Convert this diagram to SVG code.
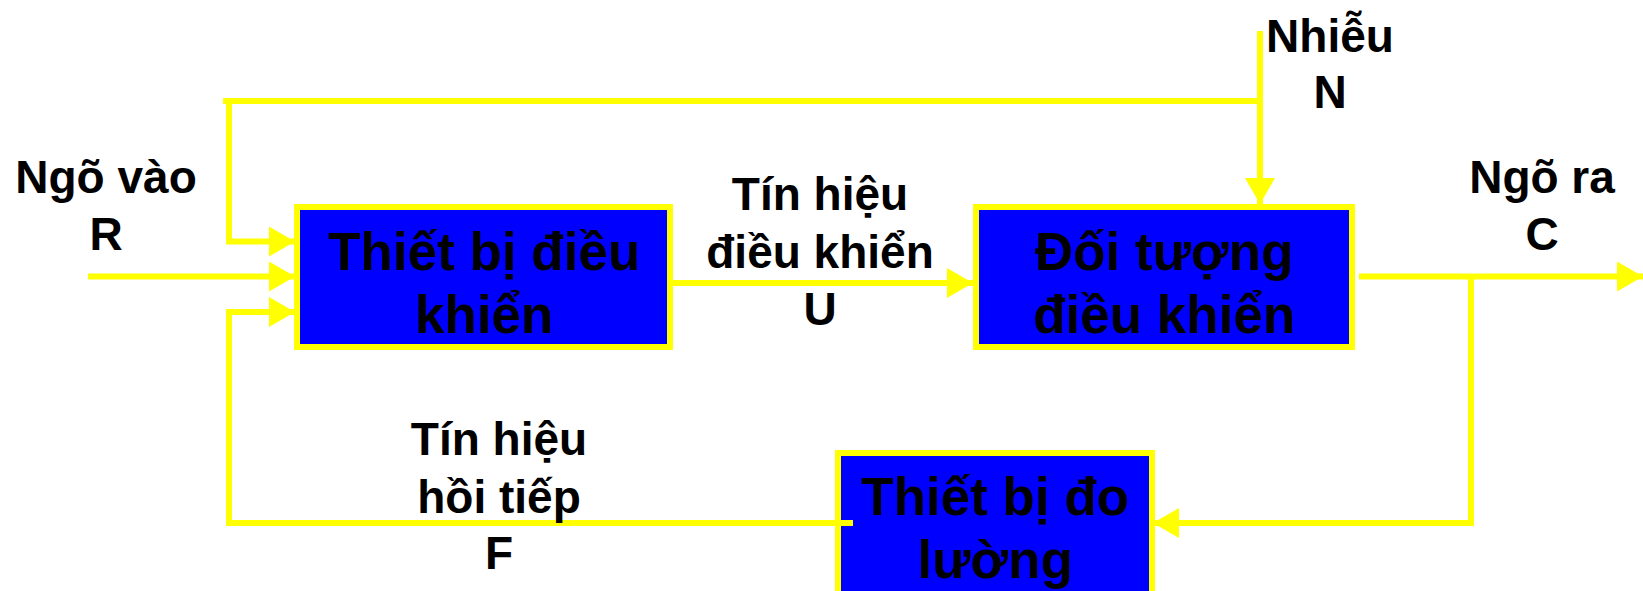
<svg xmlns="http://www.w3.org/2000/svg" width="1643" height="591" viewBox="0 0 1643 591">
  <style>
    .box { fill: #0000FF; stroke: #FFFF00; stroke-width: 6; }
    .wire { fill: none; stroke: #FFFF00; stroke-width: 6; }
    .lbl { font-family: "Liberation Sans", Arial, sans-serif; font-weight: bold; font-size: 46px; fill: #000; text-anchor: middle; }
    .blk { font-family: "Liberation Sans", Arial, sans-serif; font-weight: bold; font-size: 53px; fill: #000; text-anchor: middle; }
  </style>
  <defs>
    <marker id="arrow" viewBox="0 0 26 30" markerWidth="26" markerHeight="30" refX="26" refY="15" orient="auto" markerUnits="userSpaceOnUse">
      <path d="M0,0 L26,15 L0,30 Z" fill="#FFFF00"/>
    </marker>
  </defs>
  <rect width="1643" height="591" fill="#FFFFFF"/>

  <!-- blocks -->
  <g id="controller">
    <rect class="box" x="297" y="207" width="373" height="140"/>
    <text class="blk" x="484" y="270">Thiết bị điều</text>
    <text class="blk" x="484" y="333">khiển</text>
  </g>
  <g id="plant">
    <rect class="box" x="976" y="207" width="376" height="140"/>
    <text class="blk" x="1164" y="270">Đối tượng</text>
    <text class="blk" x="1164" y="333">điều khiển</text>
  </g>
  <g id="sensor">
    <rect class="box" x="838" y="453" width="314" height="160"/>
    <text class="blk" x="995" y="515">Thiết bị đo</text>
    <text class="blk" x="995" y="578">lường</text>
  </g>

  <!-- signal lines -->
  <g id="connectors">
    <path class="wire" d="M223,101 H1260"/>
    <path class="wire" d="M229,101 V241.5 H295" marker-end="url(#arrow)"/>
    <path class="wire" d="M1260,31 V204" marker-end="url(#arrow)"/>
    <path class="wire" d="M88,276.5 H295" marker-end="url(#arrow)"/>
    <path class="wire" d="M853,523 H229 V312 H295" marker-end="url(#arrow)"/>
    <path class="wire" d="M673,283 H973" marker-end="url(#arrow)"/>
    <path class="wire" d="M1359,276.5 H1643" marker-end="url(#arrow)"/>
    <path class="wire" d="M1471,276.5 V523 H1153" marker-end="url(#arrow)"/>
  </g>

  <!-- signal labels -->
  <g id="labels">
    <text class="lbl" x="106" y="193">Ngõ vào</text>
    <text class="lbl" x="106" y="250">R</text>
    <text class="lbl" x="1330" y="52">Nhiễu</text>
    <text class="lbl" x="1330" y="108">N</text>
    <text class="lbl" x="820" y="210">Tín hiệu</text>
    <text class="lbl" x="820" y="268">điều khiển</text>
    <text class="lbl" x="820" y="325">U</text>
    <text class="lbl" x="1542" y="193">Ngõ ra</text>
    <text class="lbl" x="1542" y="250">C</text>
    <text class="lbl" x="499" y="455">Tín hiệu</text>
    <text class="lbl" x="499" y="513">hồi tiếp</text>
    <text class="lbl" x="499" y="569">F</text>
  </g>
</svg>
